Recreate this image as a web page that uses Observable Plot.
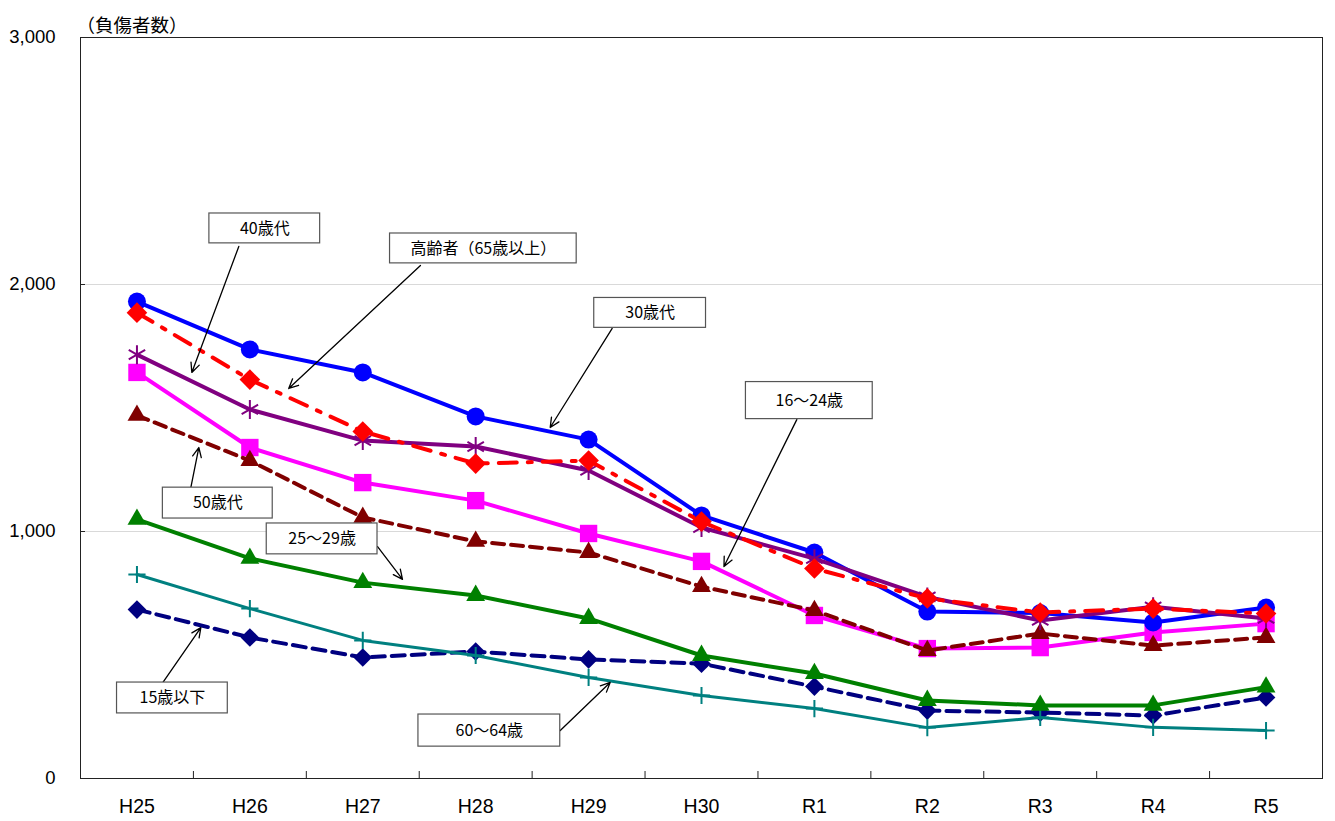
<!DOCTYPE html>
<html>
<head>
<meta charset="utf-8">
<script src="https://cdn.jsdelivr.net/npm/d3@7"></script>
<script src="https://cdn.jsdelivr.net/npm/@observablehq/plot@0.6"></script>
<style>
  html, body { margin: 0; padding: 0; background: #fff; }
  #chart svg { display: block; }
</style>
</head>
<body>
<div id="chart"></div>
<script>
// ---- Data ----
const years = ["H25","H26","H27","H28","H29","H30","R1","R2","R3","R4","R5"];
const age30s     = [1931,1737,1644,1466,1372,1065,915,676,670,632,692];
const elderly    = [1886,1615,1405,1275,1287,1040,850,729,672,688,668];
const age40s     = [1716,1494,1368,1344,1247,1016,890,735,640,695,648];
const age16to24  = [1644,1340,1198,1125,992,879,660,526,530,591,627];
const age50s     = [1470,1287,1057,960,915,777,680,518,587,538,571];
const age25to29  = [1049,891,793,741,648,498,425,316,296,296,370];
const under15    = [684,571,490,514,482,465,372,275,267,255,328];
const age60to64  = [826,688,559,498,409,336,283,206,247,207,194];
const yTicks = [0, 1000, 2000, 3000];

// ---- Series styling (bottom to top drawing order) ----
const seriesList = [
  {name: "15歳以下",        values: under15,   color: "#000080", width: 4, dash: "13,7",        symbol: "diamond2", r: 8.4, filled: true},
  {name: "60～64歳",        values: age60to64, color: "#008080", width: 3, dash: null,          symbol: "plus",     r: 5.6, filled: false},
  {name: "25～29歳",        values: age25to29, color: "#008000", width: 4, dash: null,          symbol: "triangle", r: 7,   filled: true},
  {name: "16～24歳",        values: age16to24, color: "#FF00FF", width: 4, dash: null,          symbol: "square",   r: 9.8, filled: true},
  {name: "50歳代",          values: age50s,    color: "#800000", width: 4, dash: "12,7",        symbol: "triangle", r: 7,   filled: true},
  {name: "30歳代",          values: age30s,    color: "#0000FF", width: 4, dash: null,          symbol: "circle",   r: 9,   filled: true},
  {name: "40歳代",          values: age40s,    color: "#800080", width: 4, dash: null,          symbol: "asterisk", r: 9,   filled: false},
  {name: "高齢者（65歳以上）", values: elderly,   color: "#FF0000", width: 4, dash: "18,11,4,11",  symbol: "diamond2", r: 9.3, filled: true}
];

// ---- Annotation layout (box centre / size and arrow, in axis units) ----
const annotations = [
  {label: "40歳代",            bx: 1.132, by: 2227, bw: 0.981, bh: 121, ax: 0.902, ay: 2154, tx: 0.486, ty: 1644},
  {label: "高齢者（65歳以上）", bx: 3.068, by: 2146, bw: 1.653, bh: 121, ax: 2.511, ay: 2077, tx: 1.344, ty: 1579},
  {label: "30歳代",            bx: 4.545, by: 1885, bw: 0.990, bh: 121, ax: 4.209, ay: 1822, tx: 3.660, ty: 1421},
  {label: "16～24歳",          bx: 5.955, by: 1530, bw: 1.123, bh: 150, ax: 5.844, ay: 1453, tx: 5.199, ty: 858},
  {label: "50歳代",            bx: 0.716, by: 1115, bw: 0.973, bh: 125, ax: 0.477, ay: 1178, tx: 0.548, ty: 1340},
  {label: "25～29歳",          bx: 1.640, by: 970,  bw: 0.981, bh: 125, ax: 2.131, ay: 939,  tx: 2.352, ty: 806},
  {label: "15歳以下",          bx: 0.314, by: 326,  bw: 0.981, bh: 125, ax: 0.230, ay: 389,  tx: 0.566, ty: 611},
  {label: "60～64歳",          bx: 3.121, by: 194,  bw: 1.256, bh: 130, ax: 3.749, ay: 194,  tx: 4.191, ty: 389}
];

const boundaries = d3.range(0.5, years.length - 1, 1);
const jpFont = "'Noto Sans CJK JP', 'Noto Sans', sans-serif";
const numFont = "'Liberation Sans', Arial, sans-serif";

const marks = [
  Plot.ruleY([1000, 2000], {stroke: "#d9d9d9", strokeWidth: 1}),
  Plot.frame({stroke: "#222", strokeWidth: 1}),
  // inner tick marks on the category boundaries
  Plot.ruleX(boundaries, {x: d => d, y1: 0, y2: 0, insetBottom: 7, stroke: "#222"}),
  Plot.ruleY(yTicks, {y: d => d, x1: -0.5, x2: -0.5, insetRight: -5, stroke: "#222"}),
  Plot.axisY({ticks: yTicks, tickSize: 0, tickPadding: 25, tickFormat: d3.format(","),
              fontSize: 18.5, fontFamily: numFont, fill: "#000", label: null}),
  Plot.axisX({ticks: d3.range(years.length), tickSize: 0, tickPadding: 21, tickFormat: i => years[i],
              fontSize: 19.5, fontFamily: numFont, fill: "#000", label: null}),
  Plot.text(["（負傷者数）"], {frameAnchor: "top-left", dx: -4, dy: -19, textAnchor: "start",
              fontSize: 18.5, fontFamily: jpFont, fill: "#000"})
];

for (const s of seriesList) {
  const rows = s.values.map((v, i) => ({i, v}));
  marks.push(Plot.line(rows, {x: "i", y: "v", stroke: s.color, strokeWidth: s.width,
                              strokeDasharray: s.dash ?? undefined, strokeLinejoin: "round"}));
  marks.push(Plot.dot(rows, s.filled
    ? {x: "i", y: "v", symbol: () => s.symbol, r: s.r, fill: s.color, stroke: "none"}
    : {x: "i", y: "v", symbol: () => s.symbol, r: s.r, fill: "none", stroke: s.color, strokeWidth: 2}));
}

marks.push(
  Plot.arrow(annotations, {x1: "ax", y1: "ay", x2: "tx", y2: "ty", stroke: "#000",
                           strokeWidth: 1.3, headLength: 12, headAngle: 50}),
  Plot.rect(annotations, {x1: d => d.bx - d.bw / 2, x2: d => d.bx + d.bw / 2,
                          y1: d => d.by - d.bh / 2, y2: d => d.by + d.bh / 2,
                          fill: "#fff", stroke: "#555", strokeWidth: 1.2}),
  Plot.text(annotations, {x: "bx", y: "by", text: "label", fontSize: 16, fontFamily: jpFont, fill: "#000"})
);

const chart = Plot.plot({
  width: 1335,
  height: 821,
  marginLeft: 80,
  marginRight: 13,
  marginTop: 37,
  marginBottom: 43,
  style: {background: "#fff", overflow: "visible"},
  x: {type: "linear", domain: [-0.5, years.length - 0.5]},
  y: {domain: [0, 3000]},
  marks
});
document.getElementById("chart").append(chart);
</script>
</body>
</html>
